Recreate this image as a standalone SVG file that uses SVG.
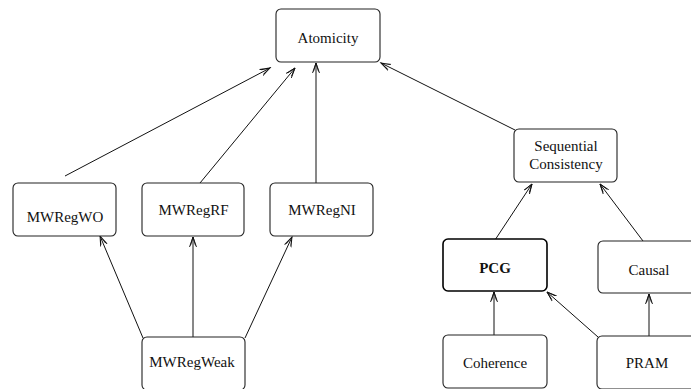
<svg xmlns="http://www.w3.org/2000/svg" width="691" height="389" viewBox="0 0 691 389">
<style>
.box{fill:#fff;stroke:#222;stroke-width:1.1}
.bold{stroke:#000;stroke-width:1.6}
.t{font-family:"Liberation Serif","Times New Roman",serif;font-size:15px;fill:#111;text-anchor:middle}
.c{stroke:#111;stroke-width:1;fill:none;marker-end:url(#ah)}
</style>
<defs>
<marker id="ah" markerUnits="userSpaceOnUse" markerWidth="12" markerHeight="10" refX="10" refY="4" orient="auto" viewBox="0 0 12 8">
<path d="M0,0.5 L10,4 L0,7.5 M1.5,1.5 L10,4 L1.5,6.5" fill="none" stroke="#111" stroke-width="0.9"/>
</marker>
</defs>
<rect width="691" height="389" fill="#fff"/>
<g id="connectors">
<line class="c" x1="65" y1="176" x2="270" y2="68"/>
<line class="c" x1="200" y1="183" x2="295" y2="68"/>
<line class="c" x1="316" y1="183" x2="316" y2="63"/>
<line class="c" x1="515" y1="130" x2="381" y2="63"/>
<line class="c" x1="143" y1="338" x2="100" y2="236"/>
<line class="c" x1="193" y1="337" x2="193" y2="237"/>
<line class="c" x1="245" y1="338" x2="292" y2="237"/>
<line class="c" x1="495" y1="240" x2="532" y2="184"/>
<line class="c" x1="643" y1="241" x2="600" y2="184"/>
<line class="c" x1="494" y1="335" x2="494" y2="292"/>
<line class="c" x1="598" y1="337" x2="547" y2="292"/>
<line class="c" x1="649" y1="336" x2="649" y2="294"/>
</g>
<g id="atomicity"><rect class="box" x="276" y="9" width="104" height="53" rx="5"/><text class="t" x="328" y="43">Atomicity</text></g>
<g id="mwregwo"><rect class="box" x="13" y="183" width="103" height="53" rx="5"/><text class="t" x="65" y="222">MWRegWO</text></g>
<g id="mwregrf"><rect class="box" x="142" y="183" width="102" height="53" rx="5"/><text class="t" x="193.5" y="215">MWRegRF</text></g>
<g id="mwregni"><rect class="box" x="270" y="183" width="103" height="53" rx="5"/><text class="t" x="322" y="215">MWRegNI</text></g>
<g id="sc"><rect class="box" x="514" y="129" width="103" height="53" rx="5"/><text class="t" x="566" y="151">Sequential</text><text class="t" x="566" y="169">Consistency</text></g>
<g id="pcg"><rect class="box bold" x="443" y="239" width="104" height="52" rx="5"/><text class="t" x="495" y="273" font-weight="bold">PCG</text></g>
<g id="causal"><rect class="box" x="598" y="241" width="104" height="52" rx="5"/><text class="t" x="649" y="275">Causal</text></g>
<g id="mwregweak"><rect class="box" x="142" y="337" width="103" height="53" rx="5"/><text class="t" x="192" y="367">MWRegWeak</text></g>
<g id="coherence"><rect class="box" x="443" y="335" width="104" height="53" rx="5"/><text class="t" x="495" y="368">Coherence</text></g>
<g id="pram"><rect class="box" x="597" y="336" width="104" height="53" rx="5"/><text class="t" x="647" y="368">PRAM</text></g>
</svg>
